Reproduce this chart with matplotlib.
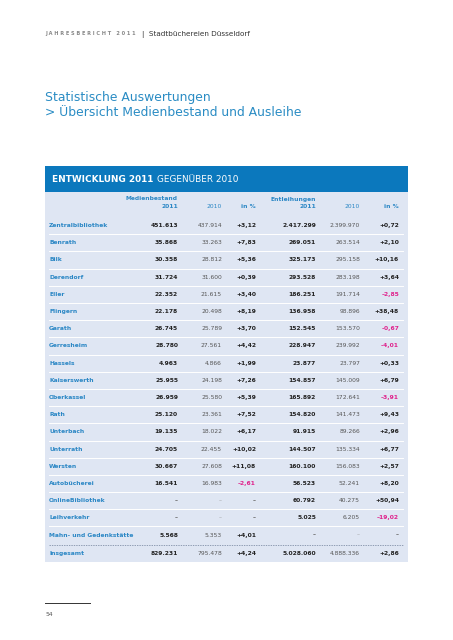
import matplotlib.pyplot as plt

# table data
rows = ['Zentralbibliothek', 'Benrath', 'Bilk', 'Derendorf', 'Eller', 'Flingern',
        'Garath', 'Gerresheim', 'Hassels', 'Kaiserswerth', 'Oberkassel', 'Rath',
        'Unterbach', 'Unterrath', 'Wersten', 'Autobücherei', 'OnlineBibliothek',
        'Leihverkehr', 'Mahn- und Gedenkstätte', 'Insgesamt']
medien_2011 = ['451.613', '35.868', '30.358', '31.724', '22.352', '22.178', '26.745',
               '28.780', '4.963', '25.955', '26.959', '25.120', '19.135', '24.705',
               '30.667', '16.541', '–', '–', '5.568', '829.231']
medien_2010 = ['437.914', '33.263', '28.812', '31.600', '21.615', '20.498', '25.789',
               '27.561', '4.866', '24.198', '25.580', '23.361', '18.022', '22.455',
               '27.608', '16.983', '–', '–', '5.353', '795.478']
medien_pct = ['+3,12', '+7,83', '+5,36', '+0,39', '+3,40', '+8,19', '+3,70', '+4,42',
              '+1,99', '+7,26', '+5,39', '+7,52', '+6,17', '+10,02', '+11,08', '–2,61',
              '–', '–', '+4,01', '+4,24']
ausl_2011 = ['2.417.299', '269.051', '325.173', '293.528', '186.251', '136.958',
             '152.545', '228.947', '23.877', '154.857', '165.892', '154.820', '91.915',
             '144.507', '160.100', '56.523', '60.792', '5.025', '–', '5.028.060']
ausl_2010 = ['2.399.970', '263.514', '295.158', '283.198', '191.714', '98.896',
             '153.570', '239.992', '23.797', '145.009', '172.641', '141.473', '89.266',
             '135.334', '156.083', '52.241', '40.275', '6.205', '–', '4.888.336']
ausl_pct = ['+0,72', '+2,10', '+10,16', '+3,64', '–2,85', '+38,48', '–0,67', '–4,01',
            '+0,33', '+6,79', '–3,91', '+9,43', '+2,96', '+6,77', '+2,57', '+8,20',
            '+50,94', '–19,02', '–', '+2,86']

BLUE = '#0b78bd'
LABEL = '#2b87c5'
BODY = '#dfe6f3'
PINK = '#e0228c'
DARK = '#222222'
GREY = '#555555'

fig = plt.figure(figsize=(4.53, 6.40), dpi=100)
ax = fig.add_axes([0, 0, 1, 1])
ax.set_xlim(0, 453)
ax.set_ylim(640, 0)
ax.axis('off')

# page header
ax.text(45, 34, 'J A H R E S B E R I C H T   2 0 1 1', fontsize=3.6, color='#888888',
        fontweight='bold', va='center')
ax.text(142, 34, '|  Stadtbüchereien Düsseldorf', fontsize=5.2, color='#333333', va='center')
ax.text(45, 97, 'Statistische Auswertungen', fontsize=8.9, color='#2a8cc4', va='center')
ax.text(45, 113, '> Übersicht Medienbestand und Ausleihe', fontsize=8.9, color='#2a8cc4',
        va='center')

# table box
left, right = 45, 408
ax.add_patch(plt.Rectangle((left, 166), right - left, 26, color=BLUE, lw=0))
ax.add_patch(plt.Rectangle((left, 192), right - left, 370, color=BODY, lw=0))
t = ax.text(52, 179, 'ENTWICKLUNG 2011', fontsize=6.4, color='white', fontweight='bold',
            va='center')
ax.annotate('GEGENÜBER 2010', xy=(1, 0.5), xycoords=t, xytext=(2.5, 0),
            textcoords='offset points', fontsize=6.4, color='white', va='center')

cols = [178, 222, 256, 316, 360, 399]
fs = 4.3
ax.text(cols[0], 199, 'Medienbestand', fontsize=fs, color=LABEL, fontweight='bold',
        ha='right', va='center')
ax.text(cols[3], 199, 'Entleihungen', fontsize=fs, color=LABEL, fontweight='bold',
        ha='right', va='center')
for c, h, b in zip(cols, ['2011', '2010', 'in %', '2011', '2010', 'in %'],
                   [True, False, True, True, False, True]):
    ax.text(c, 207, h, fontsize=fs, color=LABEL, fontweight='bold' if b else 'normal',
            ha='right', va='center')

y0, dy = 225.5, 17.2
for i, name in enumerate(rows):
    y = y0 + i * dy
    if i == len(rows) - 1:
        y += 1
    # separators between rows
    if i > 0:
        sy = y - dy / 2
        if i == len(rows) - 1:
            ax.plot([49, 403], [sy, sy], color='#6f7f99', lw=0.5, ls=(0, (2, 1.5)))
        else:
            ax.plot([49, 403], [sy, sy], color='white', lw=0.7)
    ax.text(49, y, name, fontsize=fs, color=LABEL, fontweight='bold', va='center')
    vals = [medien_2011[i], medien_2010[i], medien_pct[i],
            ausl_2011[i], ausl_2010[i], ausl_pct[i]]
    for j, v in enumerate(vals):
        bold = j in (0, 2, 3, 5)
        color = DARK if bold else GREY
        if v.startswith('–') and len(v) > 1:
            color = PINK
        if v == '–':
            color = '#999999' if not bold else '#666666'
        ax.text(cols[j], y, v, fontsize=fs, color=color,
                fontweight='bold' if bold else 'normal', ha='right', va='center')

# footer
ax.plot([45, 90], [603, 603], color='#333333', lw=0.7)
ax.text(45, 614, '54', fontsize=4.3, color='#555555', va='center')

fig.savefig('out.png', dpi=100)
